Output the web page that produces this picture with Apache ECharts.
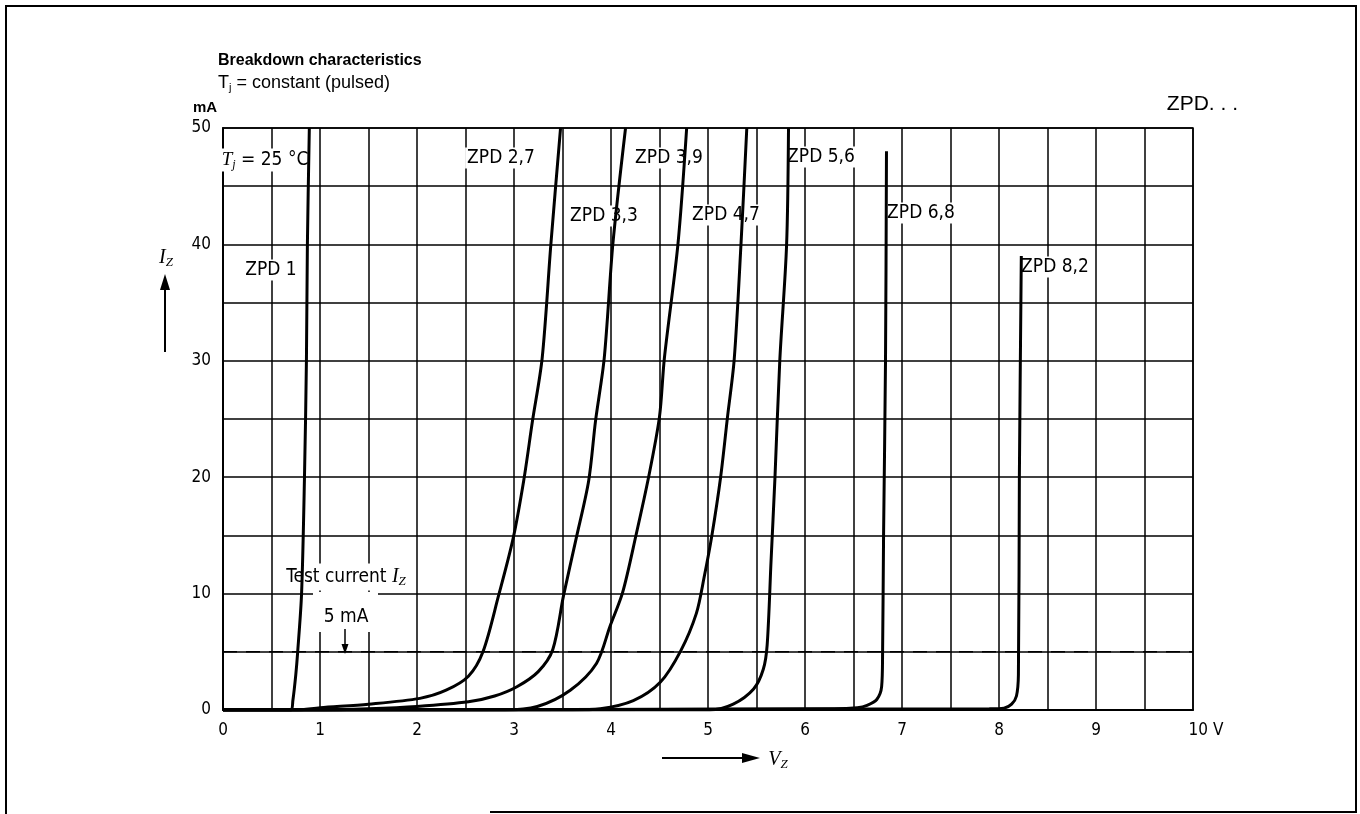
<!DOCTYPE html>
<html>
<head>
<meta charset="utf-8">
<title>Breakdown characteristics</title>
<script src="https://cdn.jsdelivr.net/npm/echarts@6/dist/echarts.min.js"></script>
<style>
  html, body { margin: 0; padding: 0; background: #fff; }
  #chart { width: 1360px; height: 814px; }
</style>
</head>
<body>
<div id="chart"></div>
<script>
// breakdown curves, points are [V_Z in V, I_Z in mA]
const zpd1 = [[0, 0], [0.7, 0], [0.72, 0.8], [0.75, 3], [0.77, 5], [0.81, 10], [0.84, 20], [0.86, 30], [0.87, 40], [0.89, 50]]
const zpd27 = [[0, 0], [0.75, 0], [1, 0.2], [1.5, 0.5], [2.03, 1.0], [2.3, 1.7], [2.53, 2.9], [2.68, 5], [2.84, 9.8], [2.99, 14.7], [3.1, 19.7], [3.19, 24.8], [3.29, 30.2], [3.38, 40], [3.48, 50]]
const zpd33 = [[0, 0], [1, 0], [1.5, 0.1], [2.0, 0.3], [2.53, 0.7], [2.8, 1.2], [3.03, 2.0], [3.25, 3.3], [3.4, 5.2], [3.51, 9.8], [3.64, 14.7], [3.77, 19.7], [3.84, 24.8], [3.93, 30.2], [4.02, 40.1], [4.15, 50]]
const zpd39 = [[0, 0], [2.9, 0], [3.24, 0.3], [3.58, 1.7], [3.85, 4.0], [3.99, 7.2], [4.12, 10.1], [4.26, 15.1], [4.39, 20.1], [4.5, 25.2], [4.55, 30.2], [4.69, 40], [4.78, 50]]
const zpd47 = [[0, 0], [3.6, 0], [3.89, 0.1], [4.23, 0.8], [4.51, 2.4], [4.72, 5.1], [4.88, 8.3], [4.96, 11.4], [5.04, 15], [5.13, 20], [5.2, 25.1], [5.27, 30.1], [5.34, 40], [5.4, 50]]
const zpd56 = [[0, 0], [5.02, 0], [5.26, 0.5], [5.47, 1.8], [5.57, 3.5], [5.61, 5.6], [5.65, 12.8], [5.69, 19.9], [5.74, 30], [5.81, 39.9], [5.83, 50]]
const zpd68 = [[0, 0], [6.3, 0.1], [6.54, 0.2], [6.64, 0.4], [6.74, 0.9], [6.79, 2], [6.8, 5], [6.81, 15], [6.83, 30], [6.84, 48]]
const zpd82 = [[0, 0], [7.9, 0.1], [8.05, 0.15], [8.13, 0.5], [8.18, 1.2], [8.2, 3], [8.21, 20], [8.23, 39]]

const curveNames = ['ZPD 1', 'ZPD 2,7', 'ZPD 3,3', 'ZPD 3,9', 'ZPD 4,7', 'ZPD 5,6', 'ZPD 6,8', 'ZPD 8,2']
const curves = [zpd1, zpd27, zpd33, zpd39, zpd47, zpd56, zpd68, zpd82]

// test current line
const testCurrent = 5
const xTicks = [0, 1, 2, 3, 4, 5, 6, 7, 8, 9, 10]
const yTicks = [0, 10, 20, 30, 40, 50]

const labelFont = '"DejaVu Sans Condensed", "DejaVu Sans", sans-serif'
const headFont = '"Liberation Sans", Arial, sans-serif'

const chart = echarts.init(document.getElementById('chart'))

// curve labels, placed by hand like on the sheet
const curveLabels = [
  { text: 'ZPD 1', x: 271, y: 270 },
  { text: 'ZPD 2,7', x: 501, y: 158 },
  { text: 'ZPD 3,3', x: 604, y: 216 },
  { text: 'ZPD 3,9', x: 669, y: 158 },
  { text: 'ZPD 4,7', x: 726, y: 215 },
  { text: 'ZPD 5,6', x: 821, y: 157 },
  { text: 'ZPD 6,8', x: 921, y: 213 },
  { text: 'ZPD 8,2', x: 1055, y: 267 }
]

function txt(text, x, y, extra) {
  return {
    type: 'text',
    z: 1,
    style: Object.assign({
      text: text,
      x: x,
      y: y,
      fill: '#000',
      font: '19px ' + labelFont,
      align: 'center',
      verticalAlign: 'middle'
    }, extra || {})
  }
}

function arrowHead(tipX, tipY, dir) {
  // small filled triangle
  let pts
  if (dir === 'up') pts = [[tipX, tipY], [tipX - 5, tipY + 16], [tipX + 5, tipY + 16]]
  else if (dir === 'down') pts = [[tipX, tipY], [tipX - 3.5, tipY - 10], [tipX + 3.5, tipY - 10]]
  else pts = [[tipX, tipY], [tipX - 18, tipY - 5], [tipX - 18, tipY + 5]]
  return { type: 'polygon', z: 5, shape: { points: pts }, style: { fill: '#000' } }
}

const subRich = {
  i: { fontStyle: 'italic', fontFamily: '"Liberation Serif", serif', fontSize: 20 },
  s: { fontStyle: 'italic', fontFamily: '"Liberation Serif", serif', fontSize: 13, padding: [10, 0, 0, 0] }
}

const graphics = [
  // outer frame
  { type: 'polyline', z: 1, shape: { points: [[6, 814], [6, 6], [1356, 6], [1356, 812], [490, 812]] }, style: { stroke: '#000', lineWidth: 2, fill: null } },
  txt('Breakdown characteristics', 218, 61, { font: 'bold 16px ' + headFont, align: 'left' }),
  txt('T{sb|j} = constant (pulsed)', 218, 83, {
    font: '18px ' + headFont,
    align: 'left',
    rich: { sb: { fontSize: 11, padding: [9, 0, 0, 0], fontFamily: headFont } }
  }),
  txt('mA', 205, 108, { font: 'bold 15px ' + headFont }),
  txt('ZPD. . .', 1238, 104, { font: '21px ' + headFont, align: 'right' }),
  // I_Z axis title with arrow
  txt('{i|I}{s|Z}', 166, 258, { rich: subRich }),
  { type: 'line', z: 5, shape: { x1: 165, y1: 352, x2: 165, y2: 285 }, style: { stroke: '#000', lineWidth: 2 } },
  arrowHead(165, 274, 'up'),
  // V_Z axis title with arrow
  { type: 'line', z: 5, shape: { x1: 662, y1: 758, x2: 745, y2: 758 }, style: { stroke: '#000', lineWidth: 2 } },
  arrowHead(760, 758, 'right'),
  txt('{i|V}{s|Z}', 778, 760, { rich: subRich }),
  // T_j note
  txt('{i|T}{s|j} = 25 °C', 265, 160, {
    backgroundColor: '#fff',
    padding: [1, 2],
    rich: {
      i: { fontStyle: 'italic', fontFamily: '"Liberation Serif", serif', fontSize: 19 },
      s: { fontStyle: 'italic', fontFamily: '"Liberation Serif", serif', fontSize: 12, padding: [9, 0, 0, 0] }
    }
  }),
  // test current note
  { type: 'rect', z: 1, shape: { x: 313, y: 592, width: 65, height: 40 }, style: { fill: '#fff' } },
  txt('Test current {i|I}{s|Z}', 346, 577, { backgroundColor: '#fff', padding: [2, 3], rich: subRich }),
  txt('5 mA', 346, 617),
  { type: 'line', z: 5, shape: { x1: 345, y1: 629, x2: 345, y2: 645 }, style: { stroke: '#000', lineWidth: 1.5 } },
  arrowHead(345, 654, 'down')
]

curveLabels.forEach(function (l) {
  graphics.push(txt(l.text, l.x, l.y, { backgroundColor: '#fff', padding: [1, 2] }))
})

const series = curves.map(function (data, i) {
  return {
    name: curveNames[i],
    type: 'line',
    data: data,
    symbol: 'none',
    smooth: 0.3,
    z: 3,
    lineStyle: { color: '#000', width: 3 }
  }
})

series.push({
  name: 'Test current',
  type: 'line',
  data: [[0, testCurrent], [10, testCurrent]],
  symbol: 'none',
  z: 2,
  lineStyle: { color: '#000', width: 1.5, type: [14, 9] }
})

const option = {
  animation: false,
  backgroundColor: '#fff',
  grid: {
    left: 223,
    top: 128,
    width: 970,
    height: 582,
    show: true,
    borderColor: '#000',
    borderWidth: 1.5
  },
  xAxis: {
    type: 'value',
    min: 0,
    max: 10,
    interval: 0.5,
    axisLine: { lineStyle: { color: '#000', width: 2 } },
    axisTick: { show: false },
    splitLine: { show: true, lineStyle: { color: '#000', width: 1.5 } },
    axisLabel: {
      margin: 12,
      color: '#000',
      fontSize: 17,
      fontFamily: labelFont,
      formatter: function (v) {
        if (xTicks.indexOf(v) < 0) return ''
        return v === 10 ? '{u|10 V}' : String(v)
      },
      rich: { u: { fontSize: 17, fontFamily: labelFont, padding: [0, 0, 0, 26] } }
    }
  },
  yAxis: {
    type: 'value',
    min: 0,
    max: 50,
    interval: 5,
    axisLine: { show: true, lineStyle: { color: '#000', width: 2 } },
    axisTick: { show: false },
    splitLine: { show: true, lineStyle: { color: '#000', width: 1.5 } },
    axisLabel: {
      margin: 12,
      color: '#000',
      fontSize: 17,
      fontFamily: labelFont,
      formatter: function (v) {
        return yTicks.indexOf(v) < 0 ? '' : String(v)
      }
    }
  },
  series: series,
  graphic: graphics
}

chart.setOption(option)
</script>
</body>
</html>
